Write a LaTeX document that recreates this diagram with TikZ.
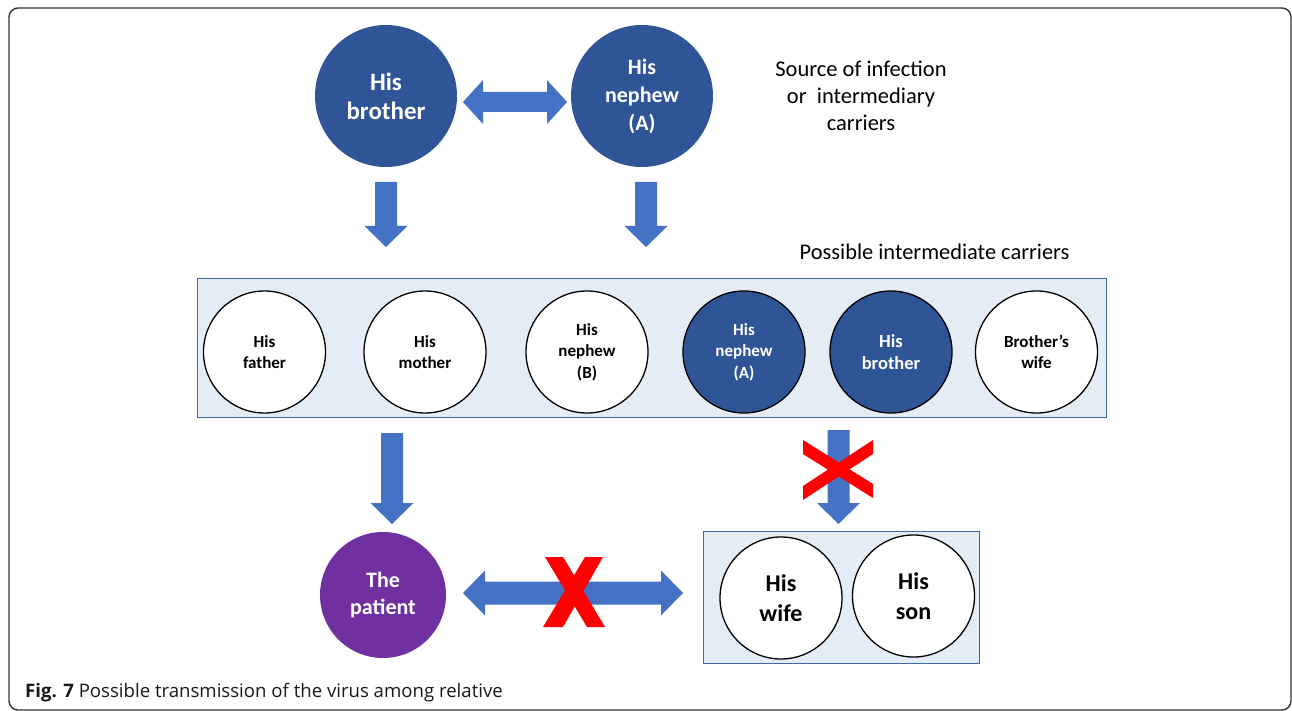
\documentclass[tikz,border=0pt]{standalone}
\usepackage{fontspec}
\setmainfont{Carlito}
\newfontfamily\capfont{Open Sans}
\definecolor{darkblue}{HTML}{2F5597}
\definecolor{arrowblue}{HTML}{4472C4}
\definecolor{boxfill}{HTML}{E4ECF5}
\definecolor{boxline}{HTML}{3F67AA}
\definecolor{patpurple}{HTML}{7030A0}
\definecolor{xred}{HTML}{FF0000}
\tikzset{
  pics/downarrow/.style={code={
    \fill[arrowblue] (-11,0) -- (11,0) -- (11,#1-21) -- (21.5,#1-21) -- (0,#1) -- (-21.5,#1-21) -- (-11,#1-21) -- cycle;
  }},
  pics/dblarrow/.style args={#1/#2/#3/#4}{code={
    \fill[arrowblue] (0,0) -- (#4,-#3) -- (#4,-#2) -- (#1-#4,-#2) -- (#1-#4,-#3) -- (#1,0)
      -- (#1-#4,#3) -- (#1-#4,#2) -- (#4,#2) -- (#4,#3) -- cycle;
  }},
  bigcirc/.style={circle, inner sep=0pt, minimum size=142pt, fill=darkblue, text=white, align=center},
  midcirc/.style={circle, inner sep=0pt, minimum size=122pt, draw=black, line width=1.3pt, fill=white, align=center,
     font=\bfseries\fontsize{17}{21.5}\selectfont},
  midfilled/.style={midcirc, fill=darkblue, text=white},
  botcirc/.style={circle, inner sep=0pt, minimum size=122pt, draw=black, line width=1.3pt, fill=white, align=center,
     font=\bfseries\fontsize{24}{29.5}\selectfont},
  groupbox/.style={fill=boxfill, draw=boxline, line width=1pt},
  plain/.style={align=center, inner sep=0pt},
}
\begin{document}
\begin{tikzpicture}[x=1pt, y=-1pt]
\useasboundingbox (0,0) rectangle (1292,711);
\fill[white] (0,0) rectangle (1292,711);
\draw[line width=1.4pt, color=black!80, rounded corners=9pt] (9,8) rectangle (1291,710);

% top sources
\node[bigcirc, font=\bfseries\fontsize{25}{29}\selectfont] (tb) at (386,96) {His\\brother};
\node[bigcirc, font=\bfseries\fontsize{22}{28}\selectfont] (tn) at (642,96) {His\\nephew\\(A)};
\pic at (463,102) {dblarrow={104/10/22/20}};

\node[plain, font=\fontsize{22.5}{27}\selectfont] (src) at (861,96) {Source of infection\\or\ \ intermediary\\carriers};
\node[plain, font=\fontsize{22.4}{27}\selectfont] (pic) at (934.5,252) {Possible intermediate carriers};

\coordinate (a1) at (386,182);
\coordinate (a2) at (646,182);
\pic at (a1) {downarrow=65};
\pic at (a2) {downarrow=65};

% middle box
\draw[groupbox] (197,278) rectangle (1106,417);
\node[midcirc] (fa) at (264.5,352) {His\\father};
\node[midcirc] (mo) at (425,352) {His\\mother};
\node[midcirc] (nb) at (587,352) {His\\nephew\\(B)};
\node[midfilled] (na) at (744,352) {His\\nephew\\(A)};
\node[midfilled, font=\bfseries\fontsize{18.5}{21.5}\selectfont] (br) at (891,352) {His\\brother};
\node[midcirc] (bw) at (1036.5,352) {Brother’s\\wife};

% lower arrows
\coordinate (a3) at (392,433);
\coordinate (a4) at (838.5,430);
\pic at (a3) {downarrow=91};
\pic at (a4) {downarrow=94};
\fill[xred] (803,440) -- (803,454) -- (873,498) -- (873,484) -- cycle;
\fill[xred] (803,486) -- (803,500) -- (873,454) -- (873,440) -- cycle;

% patient
\node[circle, inner sep=0pt, minimum size=126pt, fill=patpurple, text=white, align=center,
  font=\bfseries\fontsize{22}{27}\selectfont] (pt) at (383,595) {The\\patient};
\pic at (463,593) {dblarrow={220/11.5/22.5/22}};
\fill[xred] (545,557) -- (563,557) -- (605,627) -- (587,627) -- cycle;
\fill[xred] (585,557) -- (603,557) -- (563,627) -- (543,627) -- cycle;

% wife and son box
\draw[groupbox] (703,531) rectangle (979,663);
\node[botcirc] (wf) at (781,598) {His\\wife};
\node[botcirc] (sn) at (913.5,596) {His\\son};

% caption
\node[anchor=west, inner sep=0pt, font=\capfont\fontsize{18.6}{23}\selectfont, text=black!90] (cap) at (25,693)
  {\textbf{Fig. 7} Possible transmission of the virus among relative};
\end{tikzpicture}
\end{document}
